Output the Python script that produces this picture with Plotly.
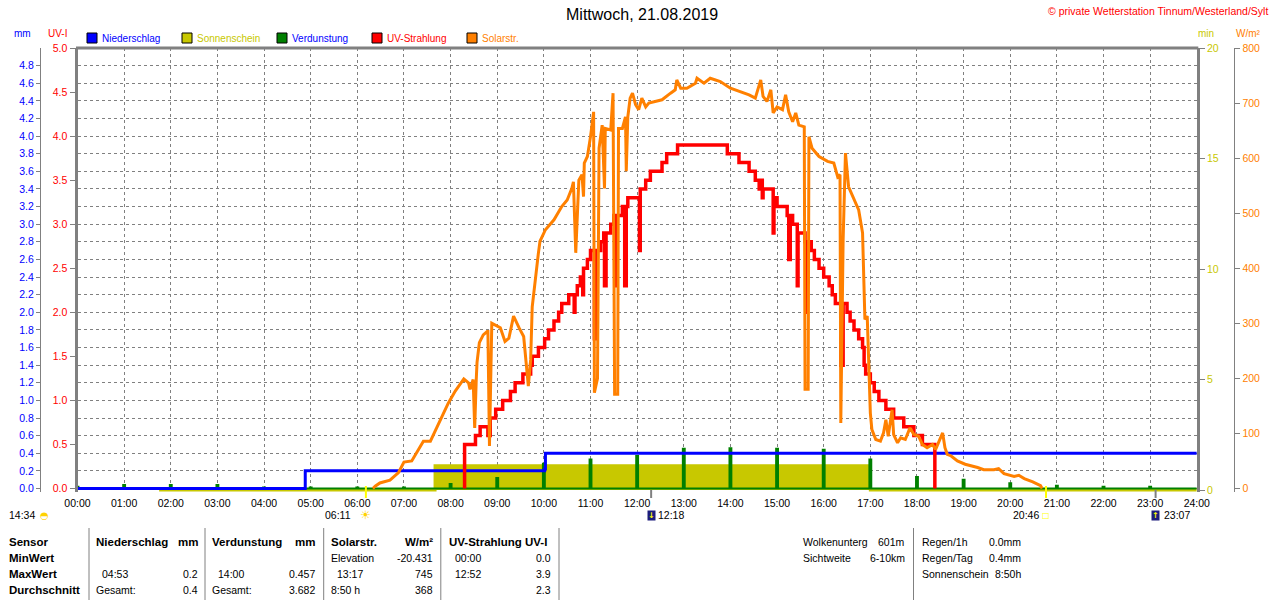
import plotly.graph_objects as go

# ---------------- data ----------------
title_text = "Mittwoch, 21.08.2019"
copyright_text = "© private Wetterstation Tinnum/Westerland/Sylt"

hour_ticks = [0, 1, 2, 3, 4, 5, 6, 7, 8, 9, 10, 11, 12, 13, 14, 15, 16, 17, 18, 19, 20, 21, 22, 23, 24]
hour_labels = ["00:00", "01:00", "02:00", "03:00", "04:00", "05:00", "06:00", "07:00", "08:00",
               "09:00", "10:00", "11:00", "12:00", "13:00", "14:00", "15:00", "16:00", "17:00",
               "18:00", "19:00", "20:00", "21:00", "22:00", "23:00", "24:00"]
mm_ticks = [0.0, 0.2, 0.4, 0.6, 0.8, 1.0, 1.2, 1.4, 1.6, 1.8, 2.0, 2.2, 2.4, 2.6, 2.8, 3.0,
            3.2, 3.4, 3.6, 3.8, 4.0, 4.2, 4.4, 4.6, 4.8]
uv_ticks = [0.0, 0.5, 1.0, 1.5, 2.0, 2.5, 3.0, 3.5, 4.0, 4.5, 5.0]
min_ticks = [0, 5, 10, 15, 20]
wm2_ticks = [0, 100, 200, 300, 400, 500, 600, 700, 800]

legend_names = ["Niederschlag", "Sonnenschein", "Verdunstung", "UV-Strahlung", "Solarstr."]

# Niederschlag (cumulative, mm)
niederschlag_t = ["00:00", "04:53", "10:01", "10:02", "24:00"]
niederschlag_mm = [0.0, 0.2, 0.22, 0.4, 0.4]

# Sonnenschein (min)
sonne_t = ["01:45", "07:40", "17:00", "24:00"]
sonne_min = [0.0, 1.1, 0.0, 0.0]

# Verdunstung (hourly, mm)
verd_t = ["00:00", "01:00", "02:00", "03:00", "04:00", "05:00", "06:00", "07:00", "08:00",
          "09:00", "10:00", "11:00", "12:00", "13:00", "14:00", "15:00", "16:00", "17:00",
          "18:00", "19:00", "20:00", "21:00", "22:00", "23:00"]
verd_mm = [0.02, 0.04, 0.04, 0.04, 0.01, 0.01, 0.01, 0.01, 0.05, 0.12, 0.28, 0.33, 0.37, 0.45,
           0.457, 0.45, 0.44, 0.33, 0.13, 0.10, 0.06, 0.03, 0.02, 0.02]

# UV-Strahlung (UV-I)
uv_t = ["08:18", "08:18", "08:32", "08:38", "08:48", "08:51", "08:58", "09:07", "09:17", "09:23",
        "09:33", "09:43", "09:45", "09:53", "10:01", "10:06", "10:13", "10:19", "10:23", "10:32",
        "10:39", "10:40", "10:43", "10:47", "10:50", "10:51", "10:56", "11:00", "11:05", "11:08",
        "11:13", "11:17", "11:18", "11:20", "11:26", "11:30", "11:32", "11:34", "11:41", "11:44",
        "11:46", "11:48", "12:03", "12:04", "12:11", "12:17", "12:32", "12:38", "12:52", "13:56",
        "14:11", "14:24", "14:32", "14:37", "14:38", "14:41", "14:42", "14:55", "14:56", "15:00",
        "15:13", "15:15", "15:17", "15:20", "15:26", "15:27", "15:36", "15:37", "15:39", "15:44",
        "15:48", "15:54", "16:00", "16:07", "16:11", "16:15", "16:22", "16:25", "16:30", "16:34",
        "16:39", "16:45", "16:50", "16:52", "16:54", "17:00", "17:05", "17:11", "17:20", "17:30",
        "17:43", "17:56", "18:07", "18:23"]
uv_val = [0.0, 0.5, 0.6, 0.7, 0.6, 0.8, 0.9, 1.0, 1.1, 1.2,
          1.3, 1.4, 1.5, 1.6, 1.7, 1.8, 1.9, 2.0, 2.1, 2.2,
          2.0, 2.2, 2.3, 2.4, 2.2, 2.5, 2.6, 2.7, 1.7, 2.7,
          2.8, 2.9, 2.3, 2.9, 3.0, 3.1, 2.3, 3.1, 3.2, 2.3,
          3.2, 3.3, 2.7, 3.4, 3.5, 3.6, 3.7, 3.8, 3.9, 3.8,
          3.7, 3.6, 3.5, 3.4, 3.5, 3.3, 3.4, 2.9, 3.3, 3.2,
          3.1, 2.6, 3.1, 3.0, 2.3, 2.9, 2.8, 2.0, 2.8, 2.7,
          2.6, 2.5, 2.4, 2.3, 2.2, 2.1, 1.4, 2.1, 2.0, 1.9,
          1.8, 1.7, 1.6, 1.4, 1.3, 1.2, 1.1, 1.0, 0.9, 0.8,
          0.7, 0.6, 0.5, 0.0]

# Solarstrahlung (W/m²)
solar_t = ["06:20", "06:23", "06:29", "06:42", "06:53", "07:00", "07:10", "07:18", "07:25", "07:34",
           "07:40", "07:49", "07:57", "08:06", "08:17", "08:23", "08:25", "08:29", "08:31", "08:33",
           "08:34", "08:37", "08:42", "08:47", "08:48", "08:50", "08:53", "09:04", "09:10", "09:15",
           "09:21", "09:28", "09:34", "09:40", "09:43", "09:45", "09:49", "09:53", "09:55", "10:02",
           "10:13", "10:23", "10:30", "10:36", "10:38", "10:41", "10:45", "10:49", "10:51", "10:52",
           "10:56", "11:00", "11:04", "11:05", "11:09", "11:11", "11:15", "11:18", "11:19", "11:26",
           "11:29", "11:31", "11:35", "11:36", "11:41", "11:45", "11:46", "11:48", "11:51", "11:54",
           "11:58", "12:02", "12:06", "12:11", "12:15", "12:24", "12:32", "12:43", "12:49", "12:51",
           "12:56", "13:04", "13:15", "13:17", "13:26", "13:34", "13:47", "14:00", "14:13", "14:24",
           "14:32", "14:39", "14:42", "14:47", "14:52", "14:55", "15:00", "15:07", "15:11", "15:15",
           "15:20", "15:24", "15:28", "15:35", "15:36", "15:40", "15:41", "15:45", "15:54", "16:05",
           "16:13", "16:18", "16:21", "16:22", "16:25", "16:28", "16:32", "16:39", "16:45", "16:50",
           "16:52", "16:53", "16:56", "16:58", "17:00", "17:02", "17:07", "17:13", "17:17", "17:20",
           "17:23", "17:28", "17:30", "17:35", "17:39", "17:45", "17:51", "17:56", "18:02", "18:07",
           "18:13", "18:20", "18:24", "18:33", "18:36", "18:39", "18:44", "18:52", "19:02", "19:18",
           "19:26", "19:39", "19:45", "19:52", "20:05", "20:11", "20:18", "20:29", "20:39", "20:41"]
solar_w = [0, 4, 10, 15, 29, 48, 50, 68, 86, 86,
           104, 131, 155, 177, 199, 192, 180, 198, 110, 198,
           229, 265, 279, 285, 285, 77, 300, 292, 267, 273,
           313, 292, 276, 186, 234, 330, 385, 428, 449, 470,
           488, 512, 524, 545, 557, 428, 560, 570, 530, 591,
           603, 639, 684, 174, 200, 618, 660, 545, 654, 651,
           718, 171, 171, 654, 654, 675, 576, 675, 709, 718,
           697, 688, 709, 693, 700, 703, 706, 718, 724, 742,
           727, 727, 736, 745, 736, 745, 739, 727, 721, 715,
           709, 742, 712, 703, 724, 682, 693, 688, 715, 684,
           666, 682, 660, 657, 180, 180, 639, 618, 603, 594,
           591, 566, 570, 119, 452, 609, 548, 524, 506, 464,
           355, 307, 313, 204, 137, 107, 89, 86, 101, 125,
           95, 143, 98, 83, 92, 89, 110, 98, 95, 80,
           74, 80, 71, 101, 74, 62, 59, 50, 44, 38,
           34, 34, 36, 27, 22, 24, 18, 12, 5, 0]

# astronomical events
day_length = "14:34"
sunrise = "06:11"
sunset = "20:46"
moonset = "12:18"
moonrise = "23:07"

# table
row_names = ["Sensor", "MinWert", "MaxWert", "Durchschnitt"]
block_heads = [("Niederschlag", "mm"), ("Verdunstung", "mm"), ("Solarstr.", "W/m²"), ("UV-Strahlung", "UV-I")]
niederschlag_stats = [("", ""), ("04:53", "0.2"), ("Gesamt:", "0.4")]
verdunstung_stats = [("", ""), ("14:00", "0.457"), ("Gesamt:", "3.682")]
solar_stats = [("Elevation", "-20.431"), ("13:17", "745"), ("8:50 h", "368")]
uv_stats = [("00:00", "0.0"), ("12:52", "3.9"), ("", "2.3")]
extra_a = [("Wolkenunterg", "601m"), ("Sichtweite", "6-10km")]
extra_b = [("Regen/1h", "0.0mm"), ("Regen/Tag", "0.4mm"), ("Sonnenschein", "8:50h")]

# ---------------- styling / layout helpers ----------------
C_BLUE, C_RED, C_ORANGE, C_GREEN, C_SUN = "#0000ff", "#ff0000", "#ff8000", "#008000", "#c8c800"
AX, GRID = "#808080", "#808080"
FONT = "Liberation Sans, Arial, sans-serif"
W, H = 1280, 600
TOP, BOT = 48, 492
LEFT, RIGHT = 77.5, 1196.8


def hrs(s):
    h, m = s.split(":")
    return int(h) + int(m) / 60.0


def px(x):
    return x / W


def py(y):
    return (BOT - y) / (BOT - TOP)


fig = go.Figure()

# Sonnenschein
fig.add_trace(go.Scatter(x=[hrs(t) for t in sonne_t], y=sonne_min, mode="lines",
                         line=dict(shape="hv", color=C_SUN, width=3), fill="tozeroy",
                         fillcolor=C_SUN, yaxis="y", hoverinfo="skip", name=legend_names[1]))

# Verdunstung (narrow hourly bars drawn as a filled step outline)
half = 0.02
vx, vy = [0.0], [0.0]
for t, v in zip(verd_t, verd_mm):
    h = hrs(t)
    a = max(h - half, 0.0)
    vx += [a, a, h + half, h + half]
    vy += [0.0, v, v, 0.0]
vx.append(24.0)
vy.append(0.0)
fig.add_trace(go.Scatter(x=vx, y=vy, mode="lines", line=dict(color=C_GREEN, width=2),
                         fill="tozeroy", fillcolor=C_GREEN, yaxis="y2", hoverinfo="skip",
                         name=legend_names[2]))

# Niederschlag
fig.add_trace(go.Scatter(x=[hrs(t) for t in niederschlag_t], y=niederschlag_mm, mode="lines",
                         line=dict(shape="hv", color=C_BLUE, width=3), yaxis="y2",
                         name=legend_names[0]))

# UV
fig.add_trace(go.Scatter(x=[hrs(t) for t in uv_t], y=uv_val, mode="lines",
                         line=dict(shape="hv", color=C_RED, width=3.5), yaxis="y3",
                         name=legend_names[3]))

# Solar
fig.add_trace(go.Scatter(x=[hrs(t) for t in solar_t], y=solar_w, mode="lines",
                         line=dict(color=C_ORANGE, width=3), yaxis="y4",
                         name=legend_names[4]))

tickfont = dict(family=FONT, size=10.5)

fig.update_layout(
    width=W, height=H,
    margin=dict(l=0, r=0, t=TOP, b=H - BOT, pad=0),
    paper_bgcolor="white", plot_bgcolor="white",
    showlegend=False,
    font=dict(family=FONT, size=11, color="black"),
    xaxis=dict(domain=[px(LEFT), px(RIGHT)], range=[0, 24], tickvals=hour_ticks,
               ticktext=hour_labels, showgrid=True, gridcolor=GRID, griddash="3px,3px",
               gridwidth=1, zeroline=False, showline=False, ticks="outside", ticklen=1,
               tickcolor="rgba(0,0,0,0)", tickfont=dict(tickfont, color="black"),
               automargin=False, fixedrange=True),
    yaxis=dict(range=[-0.09, 20], side="right", anchor="x", tickvals=min_ticks,
               tickfont=dict(tickfont, color=C_SUN), ticks="outside", ticklen=5,
               tickcolor=AX, showline=True, linecolor=AX, linewidth=3, showgrid=False,
               zeroline=False, automargin=False),
    yaxis2=dict(range=[-0.04, 5], overlaying="y", side="left", anchor="free",
                position=px(40), tickvals=mm_ticks, tickformat=".1f",
                tickfont=dict(tickfont, color=C_BLUE), ticks="outside", ticklen=4,
                tickcolor=AX, showline=True, linecolor=AX, linewidth=1, showgrid=True,
                gridcolor=GRID, griddash="3px,3px", gridwidth=1, zeroline=False,
                automargin=False),
    yaxis3=dict(range=[-0.04, 5], overlaying="y", side="left", anchor="x",
                tickvals=uv_ticks, tickformat=".1f", tickfont=dict(tickfont, color=C_RED),
                ticks="outside", ticklen=5, tickcolor=AX, showline=True, linecolor=AX,
                linewidth=3, showgrid=False, zeroline=False, automargin=False),
    yaxis4=dict(range=[-6.4, 800], overlaying="y", side="right", anchor="free",
                position=px(1234.3), tickvals=wm2_ticks,
                tickfont=dict(tickfont, color=C_ORANGE), ticks="outside", ticklen=5,
                tickcolor=AX, showline=True, linecolor=AX, linewidth=1, showgrid=False,
                zeroline=False, automargin=False),
)

ann = []
shapes = []


def txt(x, y, s, color="black", size=11, anchor="left", bold=False):
    ann.append(dict(x=px(x), y=py(y), xref="paper", yref="paper",
                    text=("<b>%s</b>" % s) if bold else s, showarrow=False,
                    xanchor=anchor, yanchor="middle", borderpad=0,
                    font=dict(family=FONT, size=size, color=color)))


# top border
shapes.append(dict(type="line", xref="paper", yref="paper", x0=px(LEFT - 1.5), x1=px(RIGHT + 1.5),
                   y0=1, y1=1, line=dict(color=AX, width=3), layer="above"))

# title and copyright
txt(642, 15, title_text, size=16, anchor="center")
txt(1269, 11, copyright_text, color=C_RED, size=10.5, anchor="right")

# axis unit titles
txt(22, 33, "mm", color=C_BLUE, size=10, anchor="center")
txt(57, 33, "UV-I", color=C_RED, size=10, anchor="center")
txt(1206, 33, "min", color=C_SUN, size=10, anchor="center")
txt(1248, 33, "W/m²", color=C_ORANGE, size=10, anchor="center")

# legend
leg_sq = [87, 182, 277, 372, 467]
leg_col = [C_BLUE, C_SUN, C_GREEN, C_RED, C_ORANGE]
leg_txtcol = [C_BLUE, C_SUN, C_BLUE, C_RED, C_ORANGE]
for xs, name, c, tc in zip(leg_sq, legend_names, leg_col, leg_txtcol):
    shapes.append(dict(type="rect", xref="paper", yref="paper", x0=px(xs), x1=px(xs + 10),
                       y0=py(43), y1=py(33), fillcolor=c, line=dict(color="black", width=1)))
    txt(xs + 14, 38, name, color=tc, size=10)

# sun / moon event marks below the axis
for t in (sunrise, sunset):
    shapes.append(dict(type="line", xref="x", yref="paper", x0=hrs(t), x1=hrs(t),
                       y0=py(486), y1=py(498), line=dict(color="#ffff00", width=2)))
for t in (moonset, moonrise):
    shapes.append(dict(type="line", xref="x", yref="paper", x0=hrs(t), x1=hrs(t),
                       y0=py(490), y1=py(498), line=dict(color=AX, width=2)))

EV_Y = 515


def evt(t, s, shift, anchor):
    ann.append(dict(x=hrs(t), y=py(EV_Y), xref="x", yref="paper", text=s, showarrow=False,
                    xanchor=anchor, yanchor="middle", xshift=shift, borderpad=0,
                    font=dict(family=FONT, size=10.5, color="black")))


def icon(t, s, color, size, bg=None):
    d = dict(x=hrs(t), y=py(EV_Y), xref="x", yref="paper", text=s, showarrow=False,
             xanchor="center", yanchor="middle", borderpad=0,
             font=dict(family="DejaVu Sans", size=size, color=color))
    if bg:
        d.update(bgcolor=bg)
    ann.append(d)


txt(8, EV_Y, day_length, size=10.5)
ann.append(dict(x=px(44), y=py(EV_Y), xref="paper", yref="paper", text="◓", showarrow=False,
                xanchor="center", yanchor="middle",
                font=dict(family="DejaVu Sans", size=10, color="#ffd200")))
icon(sunrise, "☀", "#ffd200", 12)
evt(sunrise, sunrise, -14, "right")
icon(sunset, "□", "#ffff00", 8)
evt(sunset, sunset, -6, "right")
icon(moonset, "<b>↓</b>", "#ffff00", 8, bg="#1c1c7c")
evt(moonset, moonset, 6, "left")
icon(moonrise, "<b>↑</b>", "#ffff00", 8, bg="#1c1c7c")
evt(moonrise, moonrise, 7, "left")

# table
rows_y = [542, 558, 574, 590]
for name, y in zip(row_names, rows_y):
    txt(8, y, name, size=11.5, bold=True)
block_x = [(94.7, 198.8), (211.4, 316), (329.8, 433.9), (448, 551.8)]
blocks = [niederschlag_stats, verdunstung_stats, solar_stats, uv_stats]
for (lx, rx), (head, unit), stats in zip(block_x, block_heads, blocks):
    if unit == "UV-I":
        txt(lx, rows_y[0], head + " " + unit, size=11.5, bold=True)
    else:
        txt(lx, rows_y[0], head, size=11.5, bold=True)
        txt(rx, rows_y[0], unit, size=11.5, bold=True, anchor="right")
    for (lab, val), y in zip(stats, rows_y[1:]):
        if lab:
            is_time = ":" in lab and not lab.endswith(":") and "h" not in lab
            txt(lx + (6 if is_time else 0), y, lab, size=10.5)
        if val:
            txt(rx, y, val, size=10.5, anchor="right")
for (lab, val), y in zip(extra_a, rows_y):
    txt(802.4, y, lab, size=10.5)
    txt(906, y, val, size=10.5, anchor="right")
for (lab, val), y in zip(extra_b, rows_y):
    txt(920.8, y, lab, size=10.5)
    txt(1022, y, val, size=10.5, anchor="right")
for sx in (89, 205, 323.7, 440.8, 559, 913.5):
    shapes.append(dict(type="line", xref="paper", yref="paper", x0=px(sx), x1=px(sx),
                       y0=py(528), y1=py(600), line=dict(color=AX, width=1)))

fig.update_layout(annotations=ann, shapes=shapes)

fig.write_html("out.html", config={"displayModeBar": False},
               post_script="document.body.style.margin='0px';document.body.style.overflow='hidden';")
